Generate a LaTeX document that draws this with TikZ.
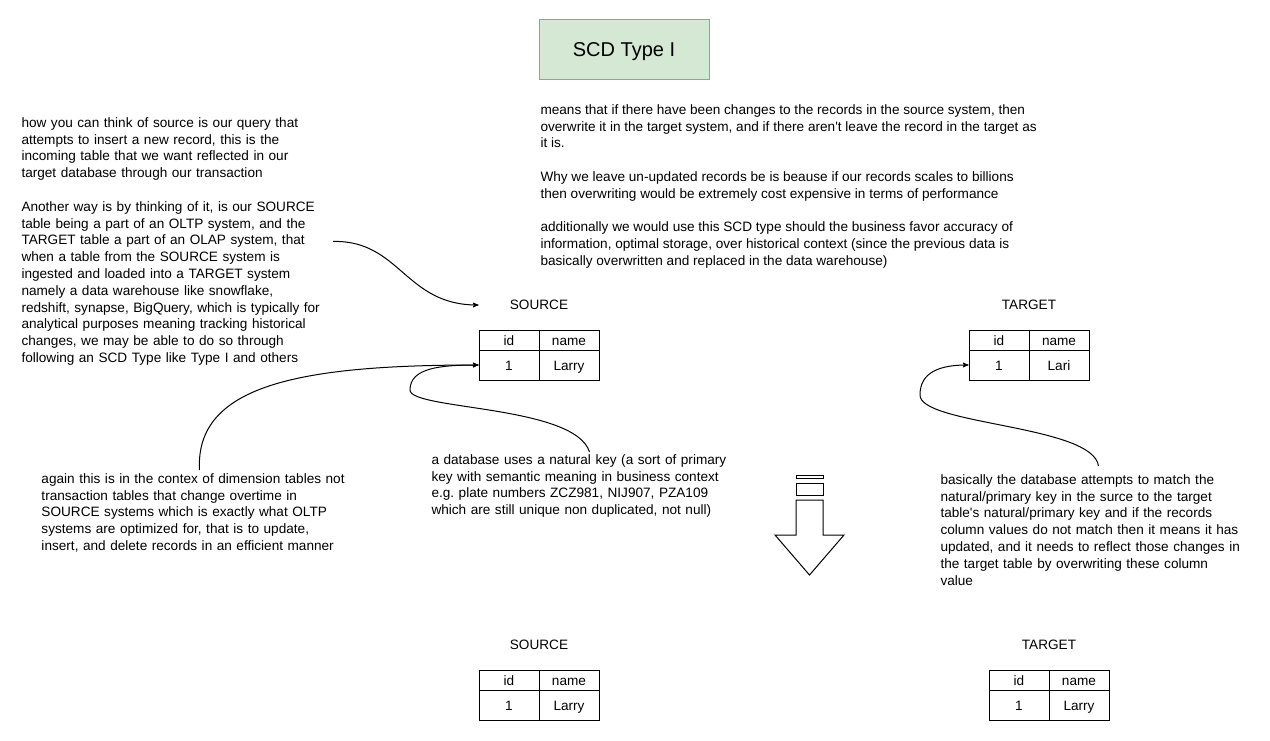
\documentclass[tikz,border=0pt]{standalone}
\usepackage{fontspec}
\setmainfont{Liberation Sans}
\usetikzlibrary{arrows}
\definecolor{titlefill}{HTML}{D5E8D4}
\definecolor{titleline}{HTML}{82B366}

\begin{document}
\begin{tikzpicture} [x=1pt, y=-1pt, line width=1pt,
  note/.style={anchor=north west, inner sep=0pt, align=left, font=\fontsize{13.6}{16.8}\selectfont},
  lbl/.style={minimum width=120pt, inner sep=0pt, font=\fontsize{13.6}{16}\selectfont},
  cell/.style={draw, minimum width=60pt, inner sep=0pt, text height=10.9pt, text depth=0pt, font=\fontsize{13.6}{16}\selectfont},
  head/.style={cell, minimum height=20pt},
  row/.style={cell, minimum height=30pt},
  link/.style={black, ->, >=stealth'}]
\useasboundingbox (0,0) rectangle (1270,741);
\node[draw=titleline, fill=titlefill, minimum width=170pt, minimum height=60pt, text height=14pt, text depth=0pt, font=\fontsize{20}{24}\selectfont] (title) at (624,50) {SCD Type I};
\node[note] (topnote) at (540,104) {means that if there have been changes to the records in the source system, then\\
overwrite it in the target system, and if there aren\textquotesingle t leave the record in the target as\\
it is.\\[16.8pt]
Why we leave un-updated records be is beause if our records scales to billions\\
then overwriting would be extremely cost expensive in terms of performance\\[16.8pt]
additionally we would use this SCD type should the business favor accuracy of\\
information, optimal storage, over historical context (since the previous data is\\
basically overwritten and replaced in the data warehouse)};
\node[note, text width=311pt] (lnote) at (21,117) {how you can think of source is our query that\\
attempts to insert a new record, this is the\\
incoming table that we want reflected in our\\
target database through our transaction\\[16.8pt]
Another way is by thinking of it, is our SOURCE\\
table being a part of an OLTP system, and the\\
TARGET table a part of an OLAP system, that\\
when a table from the SOURCE system is\\
ingested and loaded into a TARGET system\\
namely a data warehouse like snowflake,\\
redshift, synapse, BigQuery, which is typically for\\
analytical purposes meaning tracking historical\\
changes, we may be able to do so through\\
following an SCD Type like Type I and others};
\node[note, text width=316pt] (bnote) at (41,473) {again this is in the contex of dimension tables not\\
transaction tables that change overtime in\\
SOURCE systems which is exactly what OLTP\\
systems are optimized for, that is to update,\\
insert, and delete records in an efficient manner};
\node[note, text width=316pt] (mnote) at (431,454) {a database uses a natural key (a sort of primary\\
key with semantic meaning in business context\\
e.g.\ plate numbers ZCZ981, NIJ907, PZA109\\
which are still unique non duplicated, not null)};
\node[note, text width=316pt] (rnote) at (940,474) {basically the database attempts to match the\\
natural/primary key in the surce to the target\\
table\textquotesingle s natural/primary key and if the records\\
column values do not match then it means it has\\
updated, and it needs to reflect those changes in\\
the target table by overwriting these column\\
value};
% tables
\foreach \n/\x/\y/\t/\v in {srcA/479/330/SOURCE/Larry, tgtA/969/330/TARGET/Lari, srcB/479/670/SOURCE/Larry, tgtB/989/670/TARGET/Larry} {
 \node[lbl] (\n-lbl) at (\x+60,\y-25) {\t};
 \node[head] (\n-id) at (\x+30,\y+10) {id};
 \node[head] (\n-nm) at (\x+90,\y+10) {name};
 \node[row] (\n-one) at (\x+30,\y+35) {1};
 \node[row] (\n-val) at (\x+90,\y+35) {\v};
}
% down arrow
\draw (796,475) rectangle (823,478);
\draw (796,483) rectangle (823,495);
\draw (796,500) -- (823,500) -- (823,535) -- (844,535) -- (809.5,575) -- (775,535) -- (796,535) -- cycle;
% links
\draw[link] (lnote.east) .. controls (400,240) and (405,305) .. (srcA-lbl.west);
\draw[link] ([yshift=3pt]bnote.north) .. controls (195,385) and (300,365) .. (srcA-one.west);
\draw[link] ([yshift=2pt]mnote.north) .. controls (575,405) and (410,410) .. (410,390) .. controls (410,368) and (440,365) .. (srcA-one.west);
\draw[link] ([yshift=8pt]rnote.north) .. controls (1093,425) and (920,425) .. (920,395) .. controls (920,372) and (940,365) .. (tgtA-one.west);
\end{tikzpicture}
\end{document}
